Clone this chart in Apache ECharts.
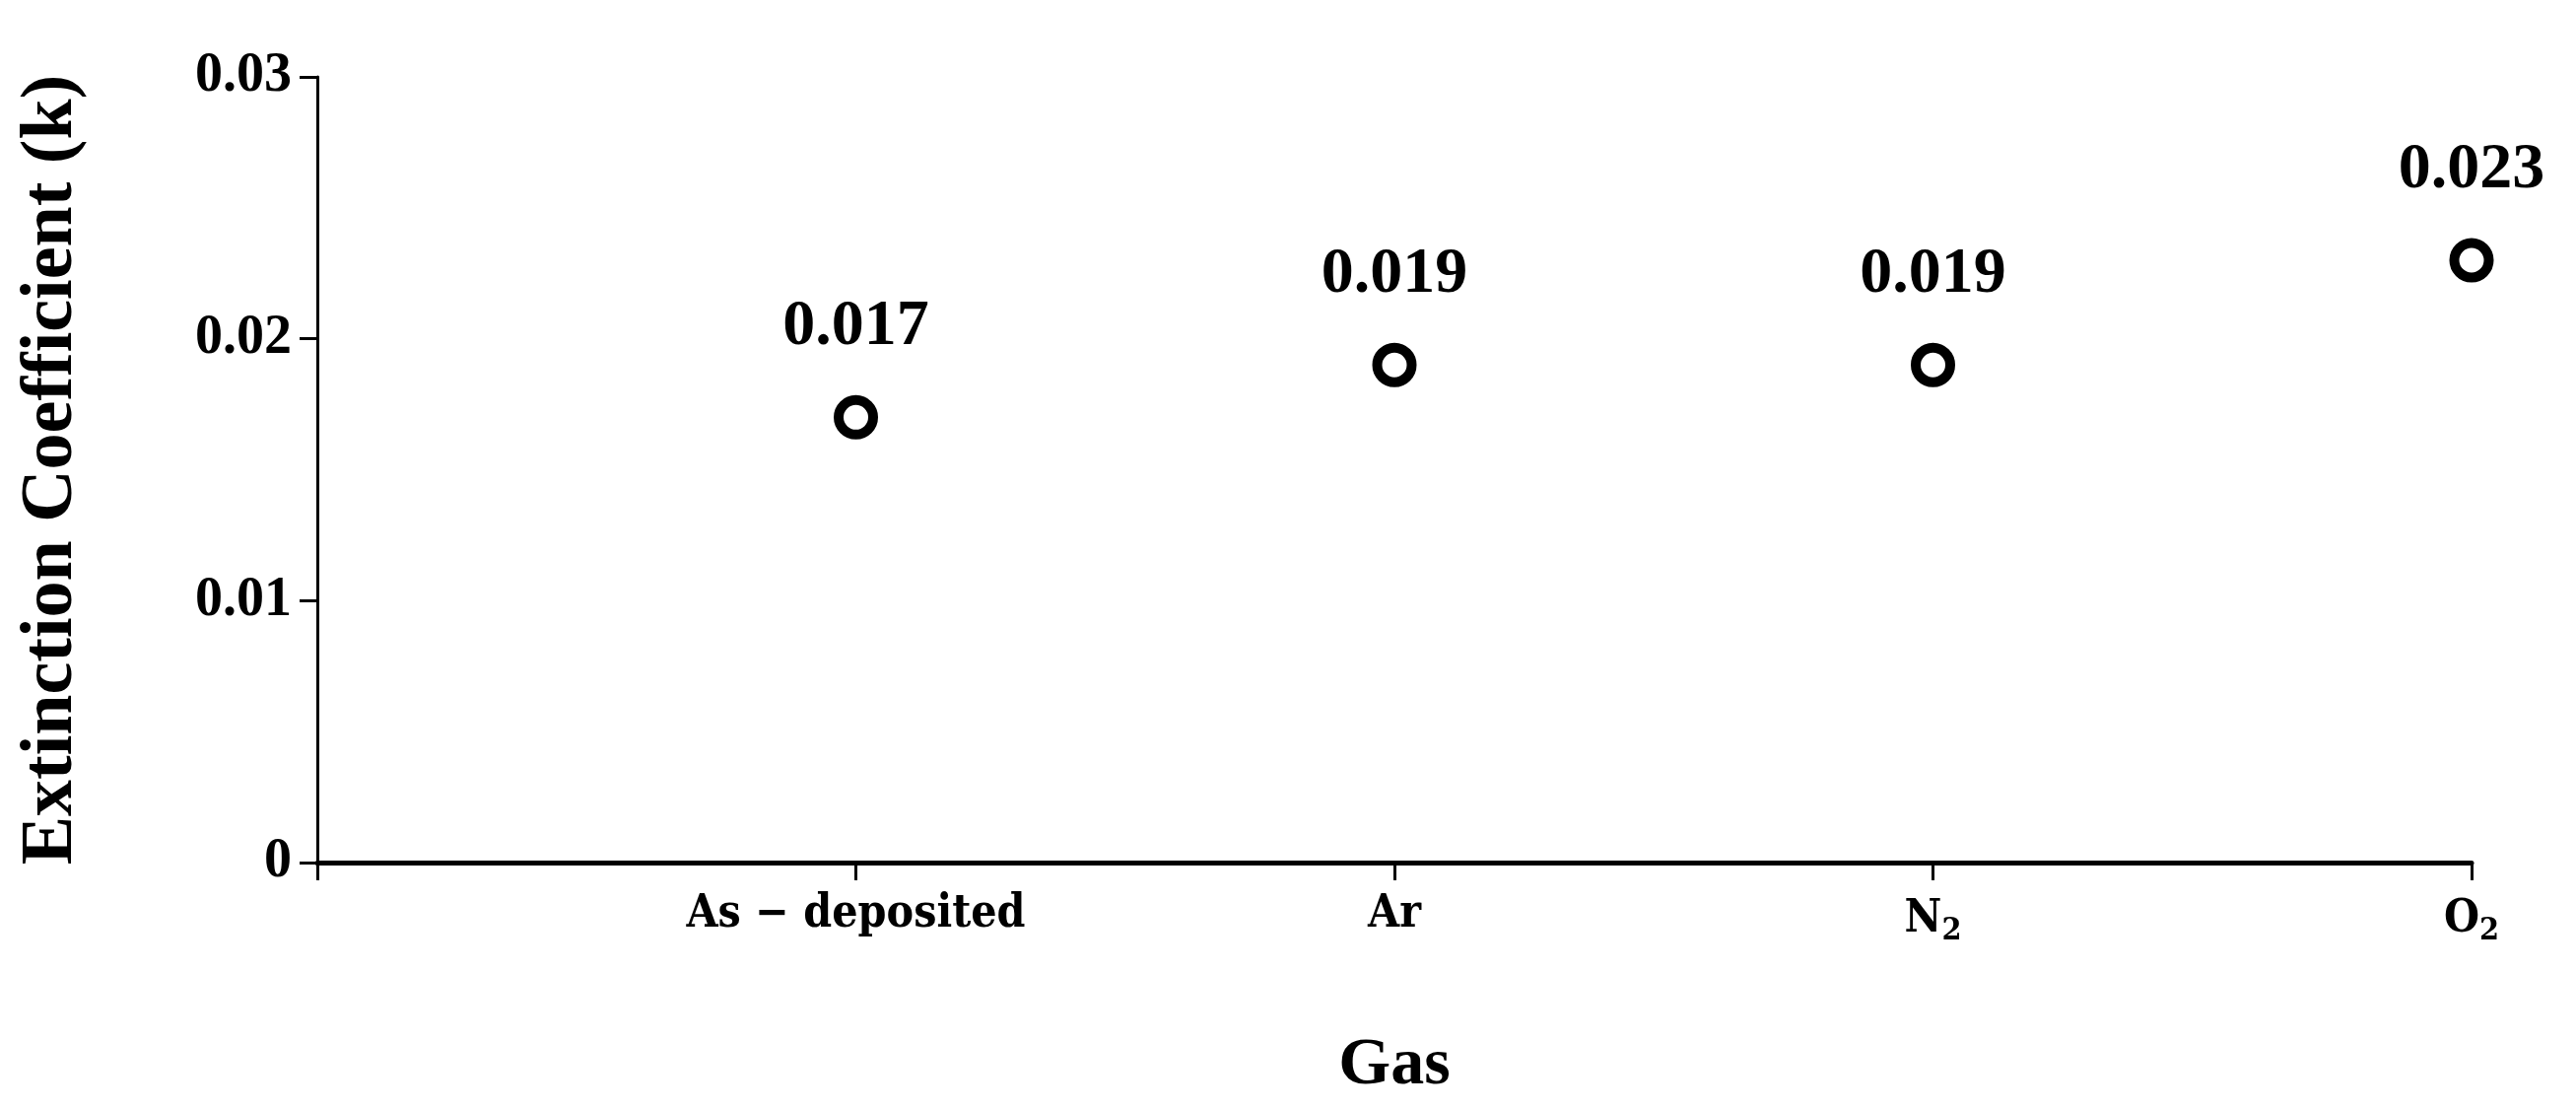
<!DOCTYPE html>
<html>
<head>
<meta charset="utf-8">
<style>
  html, body { margin: 0; padding: 0; background: #fff; }
  #chart { width: 2614px; height: 1125px; }
</style>
<script src="https://cdn.jsdelivr.net/npm/echarts@6/dist/echarts.min.js"></script>
</head>
<body>
<div id="chart"></div>
<script>
// categories on the x axis (the "2" is drawn as a subscript)
var gases = ['As \u2212 deposited', 'Ar', 'N{sub|2}', 'O{sub|2}'];
// extinction coefficient k for each gas
var kValues = [0.017, 0.019, 0.019, 0.023];
var yTicks = [0, 0.01, 0.02, 0.03];

var serif = '"Liberation Serif", "Times New Roman", serif';
var narrow = '"DejaVu Serif Condensed", "Liberation Sans Narrow", "DejaVu Sans Condensed", sans-serif';

var points = kValues.map(function (v, i) { return [i + 1, v]; });

var chart = echarts.init(document.getElementById('chart'));

chart.setOption({
  backgroundColor: '#fff',
  animation: false,
  grid: { left: 322, right: 106, top: 78, bottom: 250 },
  xAxis: {
    type: 'value',
    min: 0,
    max: gases.length,
    interval: 1,
    name: 'Gas',
    nameLocation: 'middle',
    nameGap: 172,
    nameTextStyle: { fontFamily: serif, fontWeight: 'bold', fontSize: 68, color: '#000' },
    splitLine: { show: false },
    axisLine: { onZero: false, lineStyle: { color: '#000', width: 5 } },
    axisTick: { length: 18, lineStyle: { color: '#000', width: 3 } },
    axisLabel: {
      margin: 30,
      color: '#000',
      fontFamily: narrow,
      fontWeight: 'bold',
      fontSize: 46,
      formatter: function (v) { return gases[v - 1] || ''; },
      rich: {
        sub: { fontFamily: narrow, fontWeight: 'bold', fontSize: 32, color: '#000', padding: [24, 0, 0, 0] }
      }
    }
  },
  yAxis: {
    type: 'value',
    min: yTicks[0],
    max: yTicks[yTicks.length - 1],
    interval: 0.01,
    name: 'Extinction Coefficient (k)',
    nameLocation: 'middle',
    nameGap: 232,
    nameTextStyle: { fontFamily: serif, fontWeight: 'bold', fontSize: 74, color: '#000' },
    splitLine: { show: false },
    axisLine: { show: true, lineStyle: { color: '#000', width: 3 } },
    axisTick: { show: true, length: 18, lineStyle: { color: '#000', width: 3 } },
    axisLabel: {
      margin: 26,
      color: '#000',
      fontFamily: serif,
      fontWeight: 'bold',
      fontSize: 56
    }
  },
  series: [{
    type: 'scatter',
    data: points,
    symbol: 'circle',
    symbolSize: 35,
    itemStyle: { color: '#fff', borderColor: '#000', borderWidth: 10, opacity: 1 },
    label: {
      show: true,
      position: 'top',
      distance: 36,
      color: '#000',
      opacity: 1,
      fontFamily: serif,
      fontWeight: 'bold',
      fontSize: 66,
      formatter: function (p) { return p.value[1].toFixed(3); }
    }
  }]
});
</script>
</body>
</html>
